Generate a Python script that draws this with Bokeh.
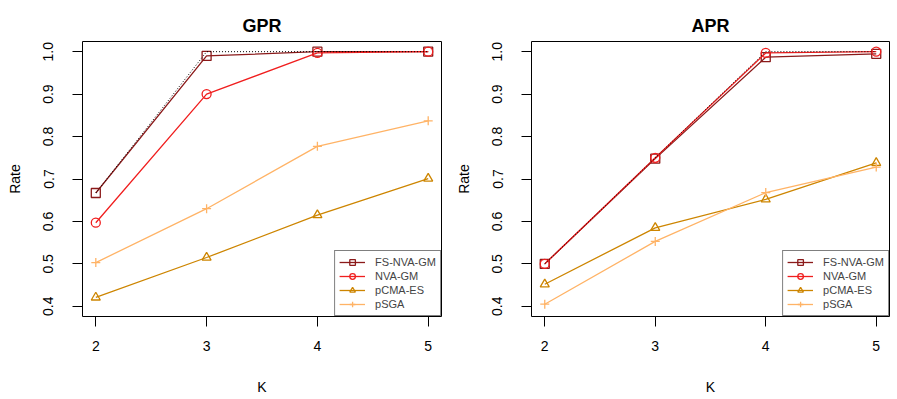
from bokeh.plotting import figure
from bokeh.layouts import row
from bokeh.models import FixedTicker, PrintfTickFormatter, Range1d, Legend, LegendItem
from bokeh.embed import file_html
from bokeh.resources import INLINE

K = [2, 3, 4, 5]

gpr_fs = [0.667, 0.990, 1.000, 1.000]
gpr_nva = [0.597, 0.900, 0.997, 1.000]
gpr_cma = [0.421, 0.515, 0.615, 0.701]
gpr_sga = [0.503, 0.630, 0.777, 0.837]
gpr_opt = [0.667, 1.000, 1.000, 1.000]

apr_fs = [0.500, 0.748, 0.987, 0.995]
apr_nva = [0.500, 0.750, 0.997, 1.000]
apr_cma = [0.452, 0.585, 0.652, 0.738]
apr_sga = [0.405, 0.553, 0.668, 0.728]
apr_opt = [0.500, 0.750, 1.000, 1.000]

names = ["FS-NVA-GM", "NVA-GM", "pCMA-ES", "pSGA"]
colors = ["#8B1A1A", "#F01E1E", "#CD8500", "#FFB366"]
markers = ["square", "circle", "triangle", "cross"]
y_ticks = [0.4, 0.5, 0.6, 0.7, 0.8, 0.9, 1.0]

FONT = "Liberation Sans"


def make(title, series, opt, width, left, right):
    p = figure(width=width, height=397, output_backend="svg", toolbar_location=None,
               x_range=Range1d(1.88, 5.12), y_range=Range1d(0.376, 1.024),
               min_border_left=left, min_border_right=right, min_border_top=41,
               min_border_bottom=80, title=title)
    p.title.text_font = FONT
    p.title.text_font_size = "18px"
    p.title.text_font_style = "bold"
    p.title.text_color = "black"
    p.title.align = "center"
    p.title.standoff = 12
    p.outline_line_color = "black"
    p.outline_line_width = 1
    p.xgrid.visible = False
    p.ygrid.visible = False
    for ax in (p.xaxis[0], p.yaxis[0]):
        ax.axis_line_color = None
        ax.minor_tick_line_color = None
        ax.major_tick_in = 0
        ax.major_tick_out = 10
        ax.major_tick_line_color = "black"
        ax.major_label_text_font = FONT
        ax.major_label_text_font_size = "14px"
        ax.major_label_text_color = "black"
        ax.axis_label_text_font = FONT
        ax.axis_label_text_font_size = "14px"
        ax.axis_label_text_font_style = "normal"
        ax.axis_label_text_color = "black"
    p.xaxis.ticker = FixedTicker(ticks=K)
    p.yaxis.ticker = FixedTicker(ticks=y_ticks)
    p.yaxis.formatter = PrintfTickFormatter(format="%.1f")
    p.yaxis.major_label_orientation = "vertical"
    p.xaxis.axis_label = "K"
    p.yaxis.axis_label = "Rate"
    p.xaxis.major_label_standoff = 14
    p.xaxis.axis_label_standoff = 25
    p.yaxis.major_label_standoff = 19
    p.yaxis.axis_label_standoff = 18

    items = []
    for name, vals, col, mk in zip(names, series, colors, markers):
        r1 = p.line(K, vals, line_color=col, line_width=1.3)
        r2 = p.scatter(K, vals, marker=mk, size=9, line_color=col, fill_color=None,
                       line_width=1.3)
        items.append(LegendItem(label=name, renderers=[r1, r2]))
    p.line(K, opt, line_color="black", line_width=1, line_dash="1 2")

    leg = Legend(items=items, location="bottom_right", margin=0, padding=4,
                 spacing=0, glyph_width=26, glyph_height=14, label_height=14,
                 label_standoff=10, label_text_font=FONT, label_text_font_size="11px",
                 border_line_color="black", border_line_width=1,
                 background_fill_alpha=1)
    p.add_layout(leg)
    return p


p1 = make("GPR", [gpr_fs, gpr_nva, gpr_cma, gpr_sga], gpr_opt, 452, 82, 11)
p2 = make("APR", [apr_fs, apr_nva, apr_cma, apr_sga], apr_opt, 438, 79, 1)

layout = row(p1, p2)
open("out.html", "w").write(file_html(layout, INLINE))
